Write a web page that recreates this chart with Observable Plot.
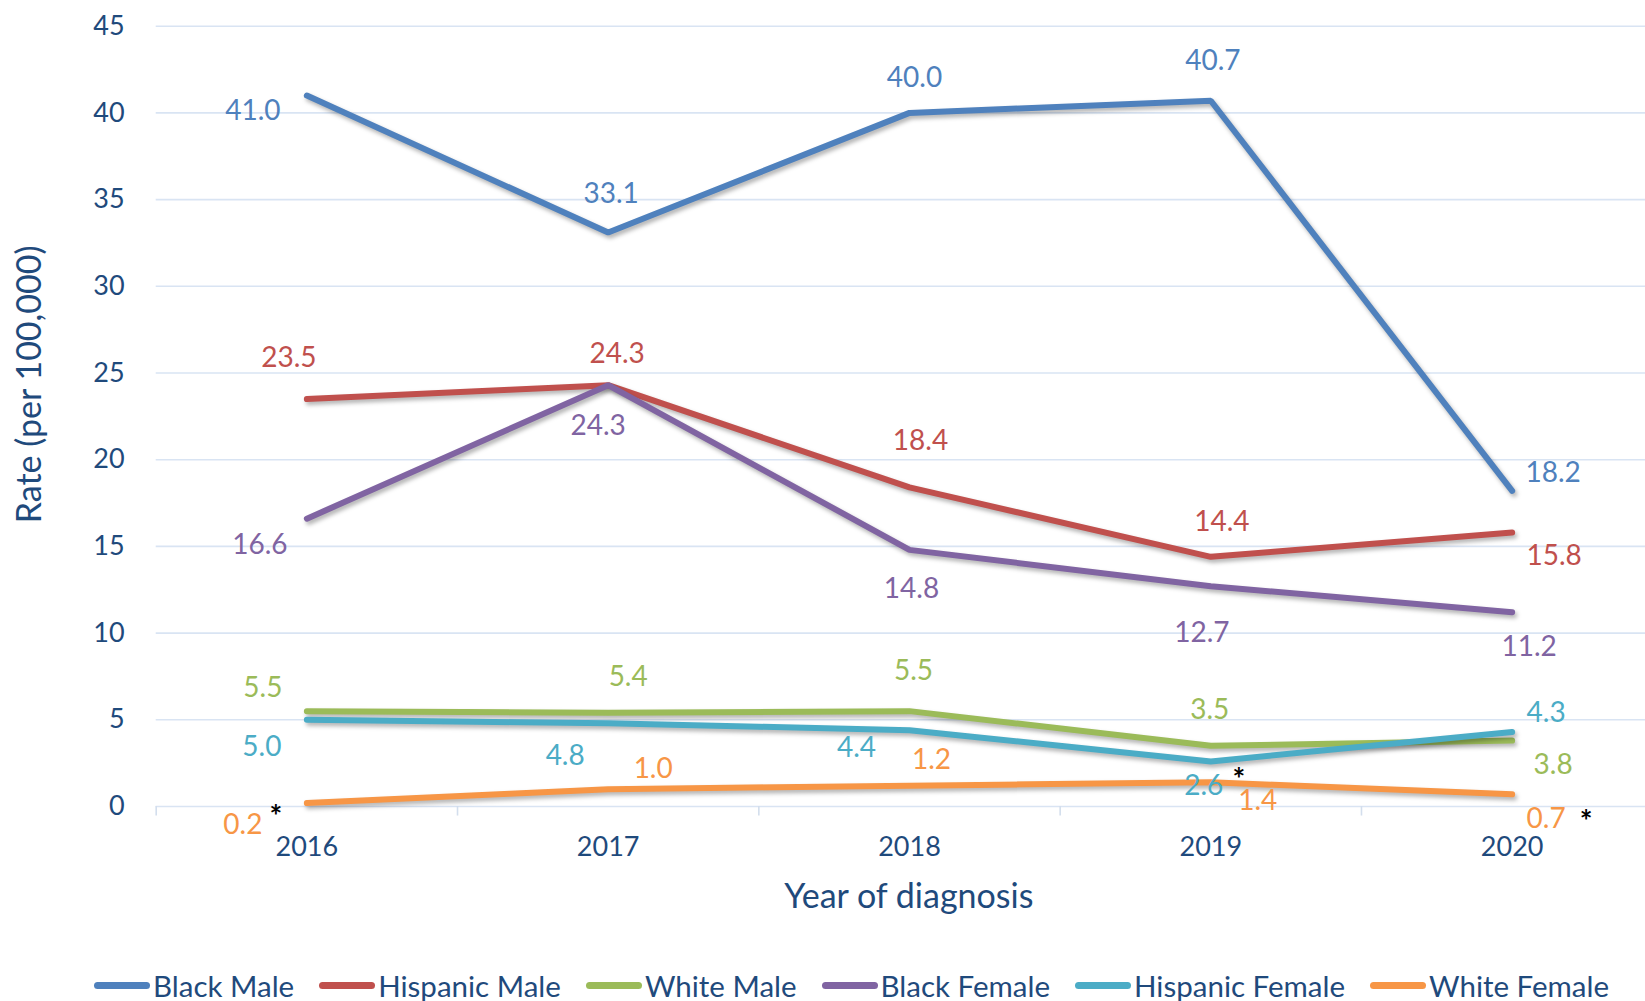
<!DOCTYPE html>
<html>
<head>
<meta charset="utf-8">
<script src="https://cdn.jsdelivr.net/npm/d3@7"></script>
<script src="https://cdn.jsdelivr.net/npm/@observablehq/plot@0.6"></script>
<style>
  html, body { margin: 0; padding: 0; background: #ffffff; overflow: hidden; }
  body { width: 1645px; height: 1001px; font-family: Lato, "Noto Sans", sans-serif; }
  #chart svg { display: block; }
  #chart g[aria-label="line"] path { filter: drop-shadow(2px 3px 2px rgba(0,0,0,0.30)); }
  #legend { display: flex; align-items: center; gap: 25px; padding-left: 94px; height: 61px; box-sizing: border-box; padding-top: 30px; color: #1f4a7c; font-size: 29.5px; }
  #legend .item { display: flex; align-items: center; gap: 3px; white-space: nowrap; }
  #legend .sw { width: 56px; height: 7px; border-radius: 4px; }
</style>
</head>
<body>
<div id="chart"></div>
<div id="legend"></div>
<script>
// ---- data ----
const years = [2016, 2017, 2018, 2019, 2020];
const seriesNames = ["Black Male", "Hispanic Male", "White Male", "Black Female", "Hispanic Female", "White Female"];
const seriesColors = ["#4f81bd", "#c0504d", "#9bbb59", "#8064a2", "#4bacc6", "#f79646"];
const blackMale      = [41.0, 33.1, 40.0, 40.7, 18.2];
const hispanicMale   = [23.5, 24.3, 18.4, 14.4, 15.8];
const whiteMale      = [5.5, 5.4, 5.5, 3.5, 3.8];
const blackFemale    = [16.6, 24.3, 14.8, 12.7, 11.2];
const hispanicFemale = [5.0, 4.8, 4.4, 2.6, 4.3];
const whiteFemale    = [0.2, 1.0, 1.2, 1.4, 0.7];
const yTicks = [0, 5, 10, 15, 20, 25, 30, 35, 40, 45];
const starred = [
  {series: "White Female", year: 2016},
  {series: "Hispanic Female", year: 2019},
  {series: "White Female", year: 2020}
];

// ---- layout (label placement offsets, px) ----
const labelOffsets = {
  "Black Male":      [[-54, 15], [3, -39], [5, -35], [2, -40], [41, -18]],
  "Hispanic Male":   [[-18, -41], [9, -31], [11, -46], [11, -35], [42, 24]],
  "White Male":      [[-44, -23], [20, -36], [4, -40], [-1, -36], [41, 24]],
  "Black Female":    [[-47, 26], [-10, 41], [2, 39], [-9, 47], [17, 35]],
  "Hispanic Female": [[-45, 27], [-43, 33], [-53, 18], [-7, 25], [34, -19]],
  "White Female":    [[-64, 22], [45, -20], [22, -26], [47, 19], [34, 25]]
};
const starOffsets = [[-31, 14], [28, 19], [74, 28]];

const seriesValues = [blackMale, hispanicMale, whiteMale, blackFemale, hispanicFemale, whiteFemale];
const rows = seriesNames.flatMap((s, i) => years.map((yr, j) => ({series: s, year: yr, rate: seriesValues[i][j], j})));
const boundaries = [2015.5, ...years.map(y => y + 0.5)];

const navy = "#1f4a7c";
const W = 1645, H = 940, y0 = 806, yTop = 25.7;

const labelMarks = rows.map(r => Plot.text([r], {
  x: "year", y: "rate", text: d => d.rate.toFixed(1), fill: "series",
  dx: labelOffsets[r.series][r.j][0], dy: labelOffsets[r.series][r.j][1], fontSize: 28
}));
const starMarks = starred.map((s, k) => {
  const r = rows.find(d => d.series === s.series && d.year === s.year);
  return Plot.text([r], {x: "year", y: "rate", text: () => "*", fill: "#000", fontSize: 30, fontWeight: "bold",
    dx: starOffsets[k][0], dy: starOffsets[k][1]});
});

const chart = Plot.plot({
  width: W, height: H,
  marginLeft: 155.7, marginRight: 0, marginTop: yTop, marginBottom: H - y0,
  style: {fontFamily: "Lato, 'Noto Sans', sans-serif", background: "#ffffff", overflow: "hidden"},
  x: {type: "linear", domain: [2015.5, 2020.5], range: [155.7, 1662.3]},
  y: {domain: [0, 45]},
  color: {domain: seriesNames, range: seriesColors},
  marks: [
    Plot.gridY(yTicks, {stroke: "#d9e4f3", strokeOpacity: 1, strokeWidth: 1.6}),
    Plot.ruleX(boundaries, {x: d => d, y1: 0, y2: -0.55, stroke: "#d3deed", strokeWidth: 1.6}),
    Plot.axisY({ticks: yTicks, tickSize: 0, tickPadding: 31.5, fontSize: 27, color: navy, label: null}),
    Plot.axisX({ticks: years, tickFormat: d => String(d), tickSize: 0, tickPadding: 30, fontSize: 27, color: navy, label: null}),
    Plot.text(["Year of diagnosis"], {frameAnchor: "bottom", textAnchor: "middle", lineAnchor: "middle",
      dx: 8, dy: 91, fontSize: 34, fill: navy}),
    Plot.text(["Rate (per 100,000)"], {frameAnchor: "left", textAnchor: "middle", lineAnchor: "middle",
      rotate: -90, dx: -126, dy: -32, fontSize: 34, fill: navy}),
    Plot.line(rows, {x: "year", y: "rate", z: "series", stroke: "series", strokeWidth: 6,
      strokeLinejoin: "miter", strokeLinecap: "round"}),
    ...labelMarks,
    ...starMarks
  ]
});
document.getElementById("chart").appendChild(chart);

const legend = document.getElementById("legend");
seriesNames.forEach((s, i) => {
  const item = document.createElement("div");
  item.className = "item";
  const sw = document.createElement("span");
  sw.className = "sw";
  sw.style.background = seriesColors[i];
  const t = document.createElement("span");
  t.textContent = s;
  item.appendChild(sw);
  item.appendChild(t);
  legend.appendChild(item);
});
</script>
</body>
</html>
